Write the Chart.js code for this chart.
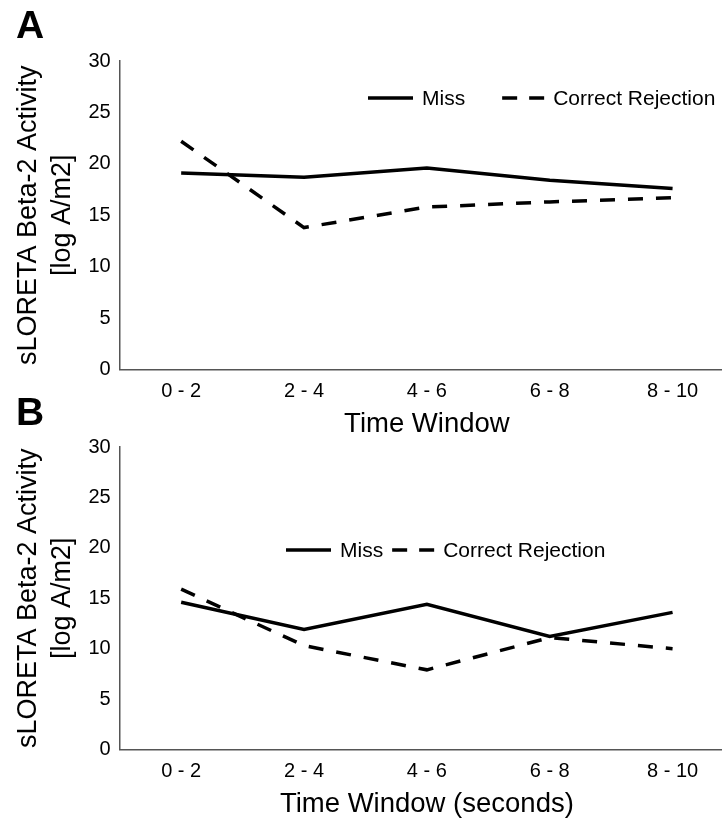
<!DOCTYPE html>
<html>
<head>
<meta charset="utf-8">
<script src="https://cdn.jsdelivr.net/npm/chart.js@4.4.1/dist/chart.umd.min.js"></script>
<style>
    html, body { margin: 0; padding: 0; background: #fff; overflow: hidden; width: 722px; height: 818px; }
    .painel { position: absolute; left: 0; }
    .letra { position: absolute; left: 16px; font: bold 39px "Liberation Sans", Arial, sans-serif; color: #000; line-height: 45px; }
</style>
</head>
<body>
<div class="painel" style="top: 0px;"><canvas id="graficoA" width="736" height="438"></canvas></div>
<div class="painel" style="top: 400px;"><canvas id="graficoB" width="736" height="418"></canvas></div>
<div class="letra" style="top: 2px;">A</div>
<div class="letra" style="top: 389px;">B</div>
<script>
// dados
const janelas = ['0 - 2', '2 - 4', '4 - 6', '6 - 8', '8 - 10'];
const yTicks = [0, 5, 10, 15, 20, 25, 30];

const missA = [19.1, 18.7, 19.6, 18.4, 17.6];
const rejeicaoA = [22.2, 13.8, 15.8, 16.3, 16.7];

const missB = [14.6, 11.9, 14.4, 11.2, 13.6];
const rejeicaoB = [15.9, 10.3, 7.9, 11.1, 10.0];

const FONTE = '"Liberation Sans", Arial, sans-serif';

/*
 * Legenda desenhada dentro da área do gráfico (como no original).
 */
const legendaInterna = {
    id: 'legendaInterna',
    afterDraw(chart, args, opts) {
        const ctx = chart.ctx;
        const y = chart.chartArea.top + opts.dy;
        let x = opts.x;
        ctx.save();
        ctx.font = '21px ' + FONTE;
        ctx.textBaseline = 'middle';
        ctx.fillStyle = '#000';
        chart.data.datasets.forEach((ds, i) => {
            const tracejado = ds.borderDash ? [15, 12] : [];
            const comp = ds.borderDash ? 42 : 45;
            ctx.beginPath();
            ctx.strokeStyle = ds.borderColor;
            ctx.lineWidth = ds.borderWidth;
            ctx.setLineDash(tracejado);
            ctx.moveTo(x, y);
            ctx.lineTo(x + comp, y);
            ctx.stroke();
            ctx.setLineDash([]);
            ctx.fillText(ds.label, x + comp + 9, y + 1);
            x += comp + 9 + ctx.measureText(ds.label).width + opts.gap;
        });
        ctx.restore();
    }
};

function criarGrafico(id, miss, rejeicao, tituloX, padding, tituloPad, legenda) {
    const ctx = document.getElementById(id);
    return new Chart(ctx, {
        type: 'line',
        data: {
            labels: janelas,
            datasets: [{
                    label: 'Miss',
                    data: miss,
                    borderColor: '#000',
                    borderWidth: 3.5,
                    pointRadius: 0,
                    fill: false
                }, {
                    label: 'Correct Rejection',
                    data: rejeicao,
                    borderColor: '#000',
                    borderWidth: 3.5,
                    borderDash: [15, 13],
                    pointRadius: 0,
                    fill: false
                }]
        },
        options: {
            responsive: false,
            animation: false,
            layout: { padding: padding },
            plugins: {
                legend: { display: false },
                tooltip: { enabled: false },
                legendaInterna: legenda
            },
            scales: {
                x: {
                    offset: true,
                    grid: { display: false, drawTicks: false },
                    border: { color: '#555', width: 1.5 },
                    ticks: { color: '#000', font: { family: FONTE, size: 20 }, padding: 10 },
                    title: { display: true, text: tituloX, color: '#000',
                        font: { family: FONTE, size: 27.5, lineHeight: 1 }, padding: tituloPad }
                },
                y: {
                    min: 0,
                    max: 30,
                    afterBuildTicks: axis => { axis.ticks = yTicks.map(v => ({value: v})); },
                    grid: { display: false, drawTicks: false },
                    border: { color: '#555', width: 1.5 },
                    ticks: { color: '#000', font: { family: FONTE, size: 20 }, padding: 9 },
                    title: { display: true, text: ['sLORETA Beta-2 Activity', '[log A/m2]'], color: '#000',
                        font: { family: FONTE, size: 27, lineHeight: 1.25 }, padding: { top: 0, bottom: 0 } }
                }
            }
        },
        plugins: [legendaInterna]
    });
}

criarGrafico('graficoA', missA, rejeicaoA, 'Time Window',
    { top: 61, left: 12, right: 2, bottom: 0 }, { top: -3, bottom: 0 }, { x: 368, dy: 37, gap: 37 });
criarGrafico('graficoB', missB, rejeicaoB, 'Time Window (seconds)',
    { top: 47, left: 12, right: 2, bottom: 0 }, { top: -3, bottom: 0 }, { x: 286, dy: 103, gap: 9 });
</script>
</body>
</html>
